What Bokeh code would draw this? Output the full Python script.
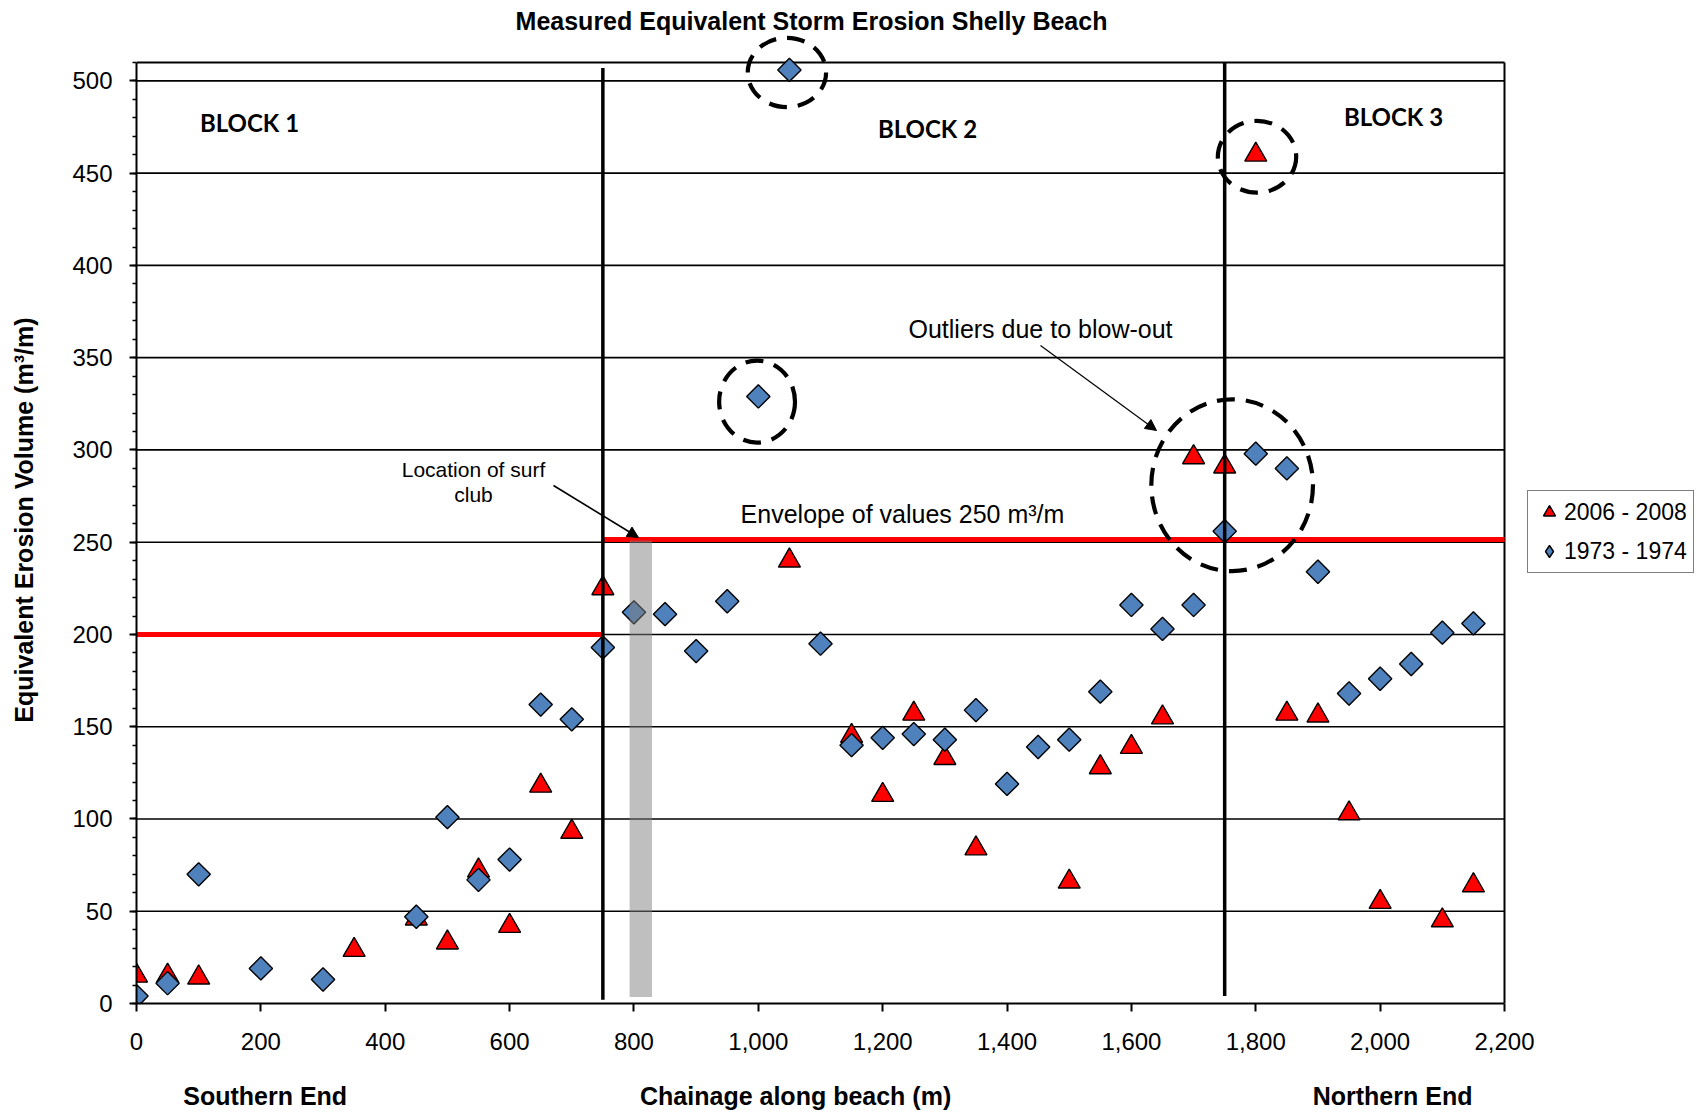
from math import pi
from bokeh.plotting import figure
from bokeh.models import (Range1d, FixedTicker, NumeralTickFormatter, Label, Arrow,
                          NormalHead, Legend, LegendItem, LinearAxis)
from bokeh.embed import file_html
from bokeh.resources import INLINE

# ---------------- data ----------------
TITLE = "Measured Equivalent Storm Erosion Shelly Beach"
X_LABEL = "Chainage along beach (m)"
Y_LABEL = "Equivalent Erosion Volume (m³/m)"
SOUTH_LABEL = "Southern End"
NORTH_LABEL = "Northern End"

X_TICKS = list(range(0, 2201, 200))
Y_TICKS = list(range(0, 501, 50))

SERIES_2006 = "2006 - 2008"
chain_2006 = [0, 50, 100, 350, 450, 500, 550, 600, 650, 700, 750, 1050, 1150, 1200, 1250,
              1300, 1350, 1500, 1550, 1600, 1650, 1700, 1750, 1800, 1850, 1900, 1950, 2000,
              2100, 2150]
vol_2006 = [15, 15, 14, 29, 46, 33, 72, 42, 118, 93, 225, 240, 145, 113, 157,
            133, 84, 66, 128, 139, 155, 296, 291, 460, 157, 156, 103, 55,
            45, 64]

SERIES_1973 = "1973 - 1974"
chain_1973 = [0, 50, 100, 200, 300, 450, 500, 550, 600, 650, 700, 750, 800, 850, 900, 950,
              1000, 1050, 1100, 1150, 1200, 1250, 1300, 1350, 1400, 1450, 1500, 1550, 1600,
              1650, 1700, 1750, 1800, 1850, 1900, 1950, 2000, 2050, 2100, 2150]
vol_1973 = [4, 11, 70, 19, 13, 47, 101, 67, 78, 162, 154, 193, 212, 211, 191, 218,
            329, 506, 195, 140, 144, 146, 143, 159, 119, 139, 143, 169, 216,
            203, 216, 256, 298, 290, 234, 168, 176, 184, 201, 206]

# envelope lines (start chainage, end chainage, level)
env_x0 = [0, 750]
env_x1 = [748, 2200]
env_level = [200, 251.5]

# block boundaries (chainage, bottom, top)
block_x = [750, 1750]
block_y0 = [2, 4]
block_y1 = [507, 510]

# surf club location band
surf_x0 = [793]
surf_x1 = [829]
surf_y0 = [3.5]
surf_y1 = [251]

# outlier rings (centre chainage, centre volume, width in m, height in m3/m)
ring_x = [1046, 998, 1802, 1762]
ring_y = [504.6, 326.2, 458.9, 280.9]
ring_w = [126, 122, 126, 260]
ring_h = [37.6, 44.4, 38.9, 93.2]

X_MAX = 2200
Y_MAX = 510

# ---------------- geometry (pixels in the 1698x1114 page) ----------------
W, H = 1698, 1114
B_LEFT, B_BOTTOM = 136, 111
X0_PX, XMAX_PX = B_LEFT, 1504          # where chainage 0 and 2200 fall
Y0_PX, YMAX_PX = H - B_BOTTOM, 62      # where volume 0 and 510 fall
SX = (XMAX_PX - X0_PX) / X_MAX
SY = (Y0_PX - YMAX_PX) / Y_MAX


def dx(px):
    return (px - X0_PX) / SX


def dy(py):
    return (Y0_PX - py) / SY


# the frame runs to the top and right edges of the page so nothing gets clipped there
p = figure(width=W, height=H, output_backend="svg", toolbar_location=None, title=None,
           x_range=Range1d(0, dx(W)), y_range=Range1d(0, dy(0)),
           min_border_left=B_LEFT, min_border_right=0,
           min_border_top=0, min_border_bottom=B_BOTTOM,
           background_fill_color="white", border_fill_color="white")
p.outline_line_color = None
p.xgrid.visible = False
p.ygrid.visible = False

FONT = "Liberation Sans"


def caption_axis(ticks, labels, standoff, orientation="horizontal"):
    return LinearAxis(ticker=FixedTicker(ticks=ticks, minor_ticks=[]),
                      major_label_overrides=dict(zip(ticks, labels)),
                      major_label_orientation=orientation,
                      axis_line_color=None, major_tick_line_color=None,
                      minor_tick_line_color=None, major_tick_out=0, major_tick_in=0,
                      major_label_standoff=standoff, major_label_text_font=FONT,
                      major_label_text_font_size="25px", major_label_text_font_style="bold",
                      major_label_text_color="black")


xa = p.xaxis[0]
xa.bounds = (0, X_MAX)
xa.ticker = FixedTicker(ticks=X_TICKS, minor_ticks=[])
xa.formatter = NumeralTickFormatter(format="0,0")
xa.axis_line_color = "black"
xa.axis_line_width = 2
xa.major_tick_line_color = "black"
xa.major_tick_line_width = 2
xa.major_tick_out = 8
xa.major_tick_in = 0
xa.minor_tick_line_color = None
xa.major_label_text_font = FONT
xa.major_label_text_font_size = "24px"
xa.major_label_text_color = "black"
xa.major_label_standoff = 21

ya = p.yaxis[0]
ya.bounds = (0, Y_MAX)
ya.ticker = FixedTicker(ticks=Y_TICKS, minor_ticks=list(range(0, Y_MAX + 1, 10)))
ya.axis_line_color = "black"
ya.axis_line_width = 2
ya.major_tick_line_color = "black"
ya.major_tick_line_width = 2
ya.major_tick_out = 7
ya.major_tick_in = 0
ya.minor_tick_line_color = "black"
ya.minor_tick_line_width = 1.5
ya.minor_tick_out = 4
ya.minor_tick_in = 0
ya.major_label_text_font = FONT
ya.major_label_text_font_size = "24px"
ya.major_label_text_color = "black"
ya.major_label_standoff = 17

# captions carried by tick-less axes placed below / left of the plot area
cap_x = [round(dx(265)), round(dx(795)), round(dx(1392))]
p.add_layout(caption_axis(cap_x, [SOUTH_LABEL, X_LABEL, NORTH_LABEL], 29), "below")
ycap = round(dy(520))
p.add_layout(caption_axis([ycap], [Y_LABEL], 31, "vertical"), "left")

# horizontal grid lines and the top / right border of the plot area
grid_levels = Y_TICKS[1:]
p.segment(x0=[0] * len(grid_levels), x1=[X_MAX] * len(grid_levels),
          y0=grid_levels, y1=grid_levels, line_color="black", line_width=1.7)
p.segment(x0=[0, X_MAX], x1=[X_MAX, X_MAX], y0=[Y_MAX, 0], y1=[Y_MAX, Y_MAX],
          line_color="black", line_width=2)

# envelope lines
p.segment(x0=env_x0, x1=env_x1, y0=env_level, y1=env_level, line_color="#FF0000", line_width=5)

# markers
r_tri = p.scatter(chain_2006, vol_2006, marker="triangle", size=22, fill_color="#FF0000",
                  line_color="black", line_width=1.4)
r_dia = p.scatter(chain_1973, vol_1973, marker="square", angle=pi / 4, size=16.5,
                  fill_color="#4F81BD", line_color="black", line_width=1.4)
# legend swatch for the diamonds (no points of its own)
r_dia_key = p.scatter([float("nan")], [float("nan")], marker="diamond", size=16,
                      fill_color="#4F81BD", line_color="black", line_width=1.4)

# surf club band (semi-transparent, over the markers)
p.quad(left=surf_x0, right=surf_x1, bottom=surf_y0, top=surf_y1, fill_color="#808080",
       fill_alpha=0.5, line_color=None)

# block boundaries
p.segment(x0=block_x, x1=block_x, y0=block_y0, y1=block_y1, line_color="black", line_width=3.5)

# dashed outlier rings
p.ellipse(x=ring_x, y=ring_y, width=ring_w, height=ring_h, fill_color=None,
          line_color="black", line_width=4.2, line_dash="18 11")


def add_text(text, px, py, size, bold=False, font=FONT, angle=0.0):
    p.add_layout(Label(x=dx(px), y=dy(py), text=text, text_font=font,
                       text_font_size=f"{size}px",
                       text_font_style="bold" if bold else "normal",
                       text_align="center", text_baseline="middle", angle=angle,
                       text_color="black"))


add_text(TITLE, 811, 20, 25, bold=True)

add_text("BLOCK 1", 249, 122, 24, bold=True, font="Lato")
add_text("BLOCK 2", 927, 128, 24, bold=True, font="Lato")
add_text("BLOCK 3", 1393, 116, 24, bold=True, font="Lato")

add_text("Location of surf", 473, 469, 21)
add_text("club", 473, 494, 21)
add_text("Envelope of values 250 m³/m", 902, 513, 25)
add_text("Outliers due to blow-out", 1040, 328, 25)

p.add_layout(Arrow(end=NormalHead(size=11, fill_color="black", line_color="black"),
                   x_start=dx(553), y_start=dy(485), x_end=dx(638), y_end=dy(537),
                   line_color="black", line_width=1.6))
p.add_layout(Arrow(end=NormalHead(size=11, fill_color="black", line_color="black"),
                   x_start=dx(1040), y_start=dy(345), x_end=dx(1156), y_end=dy(430),
                   line_color="black", line_width=1.2))

# legend to the right of the plot area (inside the wide frame)
legend = Legend(items=[LegendItem(label=SERIES_2006, renderers=[r_tri]),
                       LegendItem(label=SERIES_1973, renderers=[r_dia_key])],
                location=(1527 - X0_PX, Y0_PX - 573),
                border_line_color="black", border_line_width=1.5,
                background_fill_color="white", background_fill_alpha=1.0,
                padding=6, spacing=9, margin=0,
                glyph_width=30, glyph_height=30, label_height=30, label_standoff=0,
                label_text_font=FONT, label_text_font_size="23px",
                label_text_color="black")
p.add_layout(legend)

open("out.html", "w").write(file_html(p, INLINE))
